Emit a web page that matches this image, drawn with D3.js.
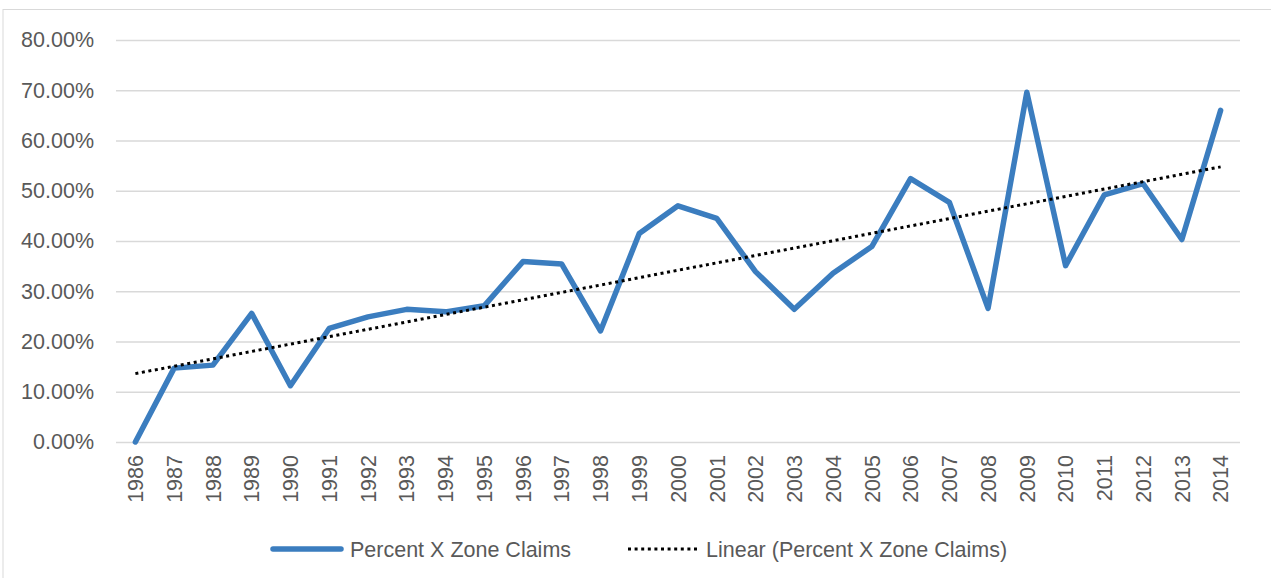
<!DOCTYPE html>
<html>
<head>
<meta charset="utf-8">
<script src="https://cdn.jsdelivr.net/npm/d3@7"></script>
<style>
  html, body { margin: 0; padding: 0; background: #fff; }
  svg { display: block; }
  text { font-family: "Liberation Sans", Arial, sans-serif; fill: #595959; }
</style>
</head>
<body>
<svg id="chart" width="1271" height="578"></svg>
<script>
const years = ["1986","1987","1988","1989","1990","1991","1992","1993","1994","1995",
  "1996","1997","1998","1999","2000","2001","2002","2003","2004","2005",
  "2006","2007","2008","2009","2010","2011","2012","2013","2014"];
const percentXZone = [0.0, 14.7, 15.3, 25.6, 11.2, 22.6, 24.9, 26.4, 25.9, 27.1,
  35.9, 35.4, 22.1, 41.5, 47.0, 44.5, 33.9, 26.4, 33.6, 38.9,
  52.4, 47.7, 26.6, 69.6, 35.1, 49.2, 51.4, 40.3, 66.0];
const yTicks = [0, 10, 20, 30, 40, 50, 60, 70, 80];
const seriesName = "Percent X Zone Claims";
const trendName = "Linear (Percent X Zone Claims)";

// least-squares linear trendline (as in the spreadsheet "Linear" trendline)
const n = percentXZone.length;
const xs = d3.range(1, n + 1);
const mx = d3.mean(xs), my = d3.mean(percentXZone);
const slope = d3.sum(xs, (x, i) => (x - mx) * (percentXZone[i] - my)) / d3.sum(xs, x => (x - mx) ** 2);
const intercept = my - slope * mx;
const trend = xs.map(x => intercept + slope * x);

const svg = d3.select("#chart");
const plot = { left: 116, right: 1240, top: 40, bottom: 442 };

// outer chart-area border
svg.append("rect").attr("x", 3).attr("y", 9.5).attr("width", 1290).attr("height", 600)
  .attr("fill", "none").attr("stroke", "#d9d9d9").attr("stroke-width", 1);

const x = d3.scaleBand().domain(years).range([plot.left, plot.right]);
const y = d3.scaleLinear().domain([0, 80]).range([plot.bottom, plot.top]);

// gridlines + y labels
const yAxis = d3.axisLeft(y).tickValues(yTicks)
  .tickSize(-(plot.right - plot.left)).tickPadding(22)
  .tickFormat(d => d3.format(".2f")(d) + "%");
const gy = svg.append("g").attr("transform", `translate(${plot.left},0)`).call(yAxis);
gy.select(".domain").remove();
gy.selectAll(".tick line").attr("stroke", "#d9d9d9").attr("stroke-width", 1.5);
gy.selectAll(".tick text").attr("font-size", "21.5px").attr("fill", "#595959")
  .style("font-family", '"Liberation Sans", Arial, sans-serif');

// x labels
const xAxis = d3.axisBottom(x).tickSize(0).tickPadding(0);
const gx = svg.append("g").attr("transform", `translate(0,${plot.bottom})`).call(xAxis);
gx.select(".domain").remove();
gx.selectAll(".tick text")
  .attr("font-size", "21.5px").attr("fill", "#595959")
  .style("font-family", '"Liberation Sans", Arial, sans-serif')
  .attr("text-anchor", "end")
  .attr("transform", "rotate(-90)")
  .attr("x", -13).attr("y", 0).attr("dy", "0.36em");

const cx = d => x(d) + x.bandwidth() / 2;

// series line
const line = d3.line().x((d, i) => cx(years[i])).y(d => y(d));
svg.append("path").datum(percentXZone)
  .attr("fill", "none").attr("stroke", "#3b7dbf").attr("stroke-width", 5.5)
  .attr("stroke-linejoin", "round").attr("stroke-linecap", "round")
  .attr("d", line);

// trendline
svg.append("path").datum(trend)
  .attr("fill", "none").attr("stroke", "#000").attr("stroke-width", 3)
  .attr("stroke-dasharray", "3,3.6")
  .attr("d", line);

// legend
const ly = 549;
const leg = svg.append("g");
leg.append("line").attr("x1", 273).attr("x2", 341).attr("y1", ly).attr("y2", ly)
  .attr("stroke", "#3b7dbf").attr("stroke-width", 5.5).attr("stroke-linecap", "round");
leg.append("text").attr("x", 350).attr("y", ly).attr("dy", "0.36em")
  .attr("font-size", "21.5px").text(seriesName);
leg.append("line").attr("x1", 628).attr("x2", 698).attr("y1", ly).attr("y2", ly)
  .attr("stroke", "#000").attr("stroke-width", 3).attr("stroke-dasharray", "3,3.6");
leg.append("text").attr("x", 706).attr("y", ly).attr("dy", "0.36em")
  .attr("font-size", "21.5px").text(trendName);
</script>
</body>
</html>
